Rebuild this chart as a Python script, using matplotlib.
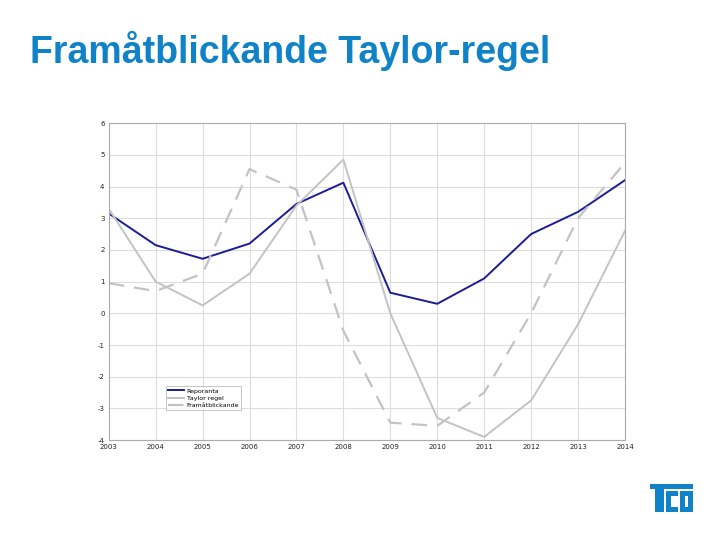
import numpy as np
import matplotlib
matplotlib.use("Agg")
import matplotlib.pyplot as plt
from matplotlib.patches import Rectangle

plt.rcParams["axes.unicode_minus"] = False

years = [2003, 2004, 2005, 2006, 2007, 2008, 2009, 2010, 2011, 2012, 2013, 2014]
reporanta = [3.15, 2.15, 1.72, 2.2, 3.45, 4.12, 0.65, 0.3, 1.1, 2.5, 3.2, 4.2]
taylor = [3.3, 1.0, 0.25, 1.25, 3.4, 4.85, 0.0, -3.3, -3.9, -2.75, -0.35, 2.6]
framat = [0.95, 0.7, 1.25, 4.55, 3.9, -0.55, -3.45, -3.55, -2.5, 0.0, 3.0, 4.75]

W, H = 720, 540
fig = plt.figure(figsize=(7.2, 5.4), dpi=100)
ax = fig.add_axes([0.151, 0.185, 0.717, 0.587])

ax.plot(years, reporanta, color="#1c1c96", lw=1.4, label="Reporanta")
ax.plot(years, taylor, color="#c3c3c3", lw=1.4, label="Taylor regel")
ax.plot(years, framat, color="#c3c3c3", lw=1.6, ls=(0, (7, 4.5)), label="Framåtblickande")

ax.set_xlim(2003, 2014)
ax.set_ylim(-4, 6)
ax.set_xticks(years)
ax.set_yticks(range(-4, 7))
ax.tick_params(labelsize=5, length=0, pad=3, colors="#222222")
ax.grid(color="#dddddd", lw=0.8)
for s in ax.spines.values():
    s.set_color("#aaaaaa")
    s.set_linewidth(0.8)

leg = ax.legend(loc="lower left", bbox_to_anchor=(0.105, 0.085), fontsize=4.5,
                frameon=True, fancybox=False, handlelength=2.5, borderpad=0.3,
                labelspacing=0.3, handletextpad=0.5)
leg.get_frame().set_edgecolor("#aaaaaa")
leg.get_frame().set_linewidth(0.6)

blue = "#0f82c8"
fig.text(0.042, 0.883, "Framåtblickande Taylor-regel", fontsize=27,
         fontweight="bold", color=blue, family="Liberation Sans",
         va="baseline")

# TCO logo as blocks (pixel boxes: x0, x1, y0, y1 from top)
def block(x0, x1, y0, y1):
    fig.add_artist(Rectangle((x0 / W, 1 - y1 / H), (x1 - x0) / W, (y1 - y0) / H,
                             transform=fig.transFigure, color=blue, lw=0))

block(650, 693, 484, 489)
block(655, 664, 489, 512)
block(666, 671, 491, 512)
block(666, 678, 491, 496)
block(666, 678, 507, 512)
block(680, 693, 491, 496)
block(680, 693, 507, 512)
block(680, 685, 491, 512)
block(688, 693, 491, 512)

fig.savefig("out.png", dpi=100)
